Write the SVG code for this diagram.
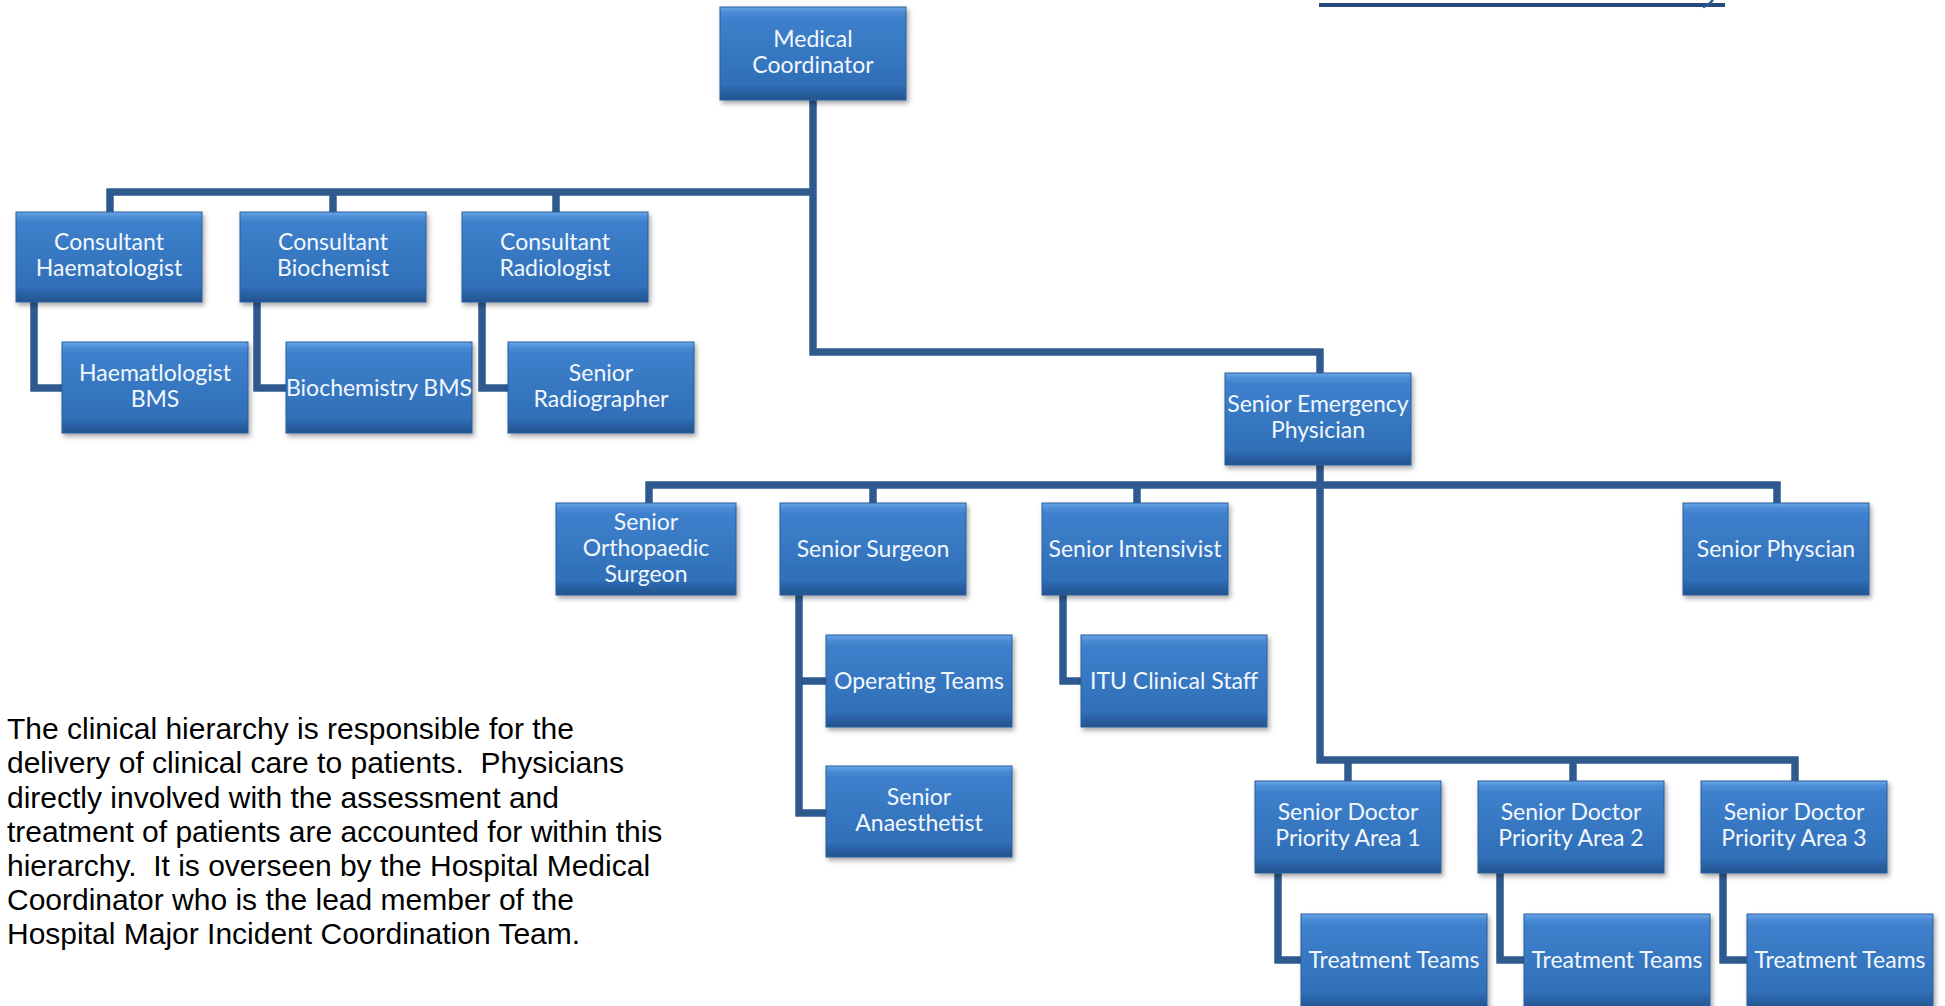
<svg xmlns="http://www.w3.org/2000/svg" width="1945" height="1006" viewBox="0 0 1945 1006">
<defs>
<linearGradient id="bg" x1="0" y1="0" x2="0" y2="1">
<stop offset="0" stop-color="#6aa6e6"/>
<stop offset="0.06" stop-color="#4c8cd6"/>
<stop offset="0.12" stop-color="#3e80cc"/>
<stop offset="0.84" stop-color="#306fb8"/>
<stop offset="0.9" stop-color="#2a62a6"/>
<stop offset="1" stop-color="#23558f"/>
</linearGradient>
<filter id="sh" x="-10%" y="-10%" width="125%" height="130%">
<feDropShadow dx="2" dy="3" stdDeviation="2.5" flood-color="#000" flood-opacity="0.35"/>
</filter>
</defs>
<style>
.box{fill:url(#bg);stroke:#2b5f9c;stroke-width:1;filter:url(#sh)}
.t{font-family:Lato,"Liberation Sans",sans-serif;font-size:23px;fill:#f2f7fd;text-anchor:middle}
.c1{fill:none;stroke:#2e5a8f;stroke-width:7;stroke-linejoin:miter}
.c2{fill:none;stroke:#4877b0;stroke-width:4;stroke-linejoin:miter}
.p{font-family:"Liberation Sans",Arial,sans-serif;font-size:30px;fill:#000;white-space:pre}
</style>
<rect width="1945" height="1006" fill="#fff"/>
<g id="topline">
<rect x="1319" y="3" width="406" height="4" fill="#234a7a"/>
<path d="M1703,7 Q1708,6 1713,0" fill="none" stroke="#2c5a92" stroke-width="2.5"/>
</g>
<g id="connectors">
<path id="cp" d="M813,100 V352 H1320 V373 M110,212 V192 H813 M333,192 V212 M556,192 V212 M34,302 V388 H62 M257,302 V388 H286 M482,302 V388 H508 M1320,465 V760 H1795 V781 M1348,760 V781 M1573,760 V781 M649,503 V485 H1777 V503 M873,485 V503 M1137,485 V503 M799,595 V813 H826 M799,681 H826 M1063,595 V681 H1082 M1278,873 V960 H1302 M1500,873 V960 H1525 M1723,873 V960 H1748" class="c1"/>
<use href="#cp" class="c2"/>
</g>
<g id="medical-coordinator"><rect class="box" x="720" y="7" width="186" height="93"/><text class="t" x="813" y="47">Medical</text><text class="t" x="813" y="73">Coordinator</text></g>
<g id="consultant-haematologist"><rect class="box" x="16" y="212" width="186" height="90"/><text class="t" x="109" y="250">Consultant</text><text class="t" x="109" y="276">Haematologist</text></g>
<g id="consultant-biochemist"><rect class="box" x="240" y="212" width="186" height="90"/><text class="t" x="333" y="250">Consultant</text><text class="t" x="333" y="276">Biochemist</text></g>
<g id="consultant-radiologist"><rect class="box" x="462" y="212" width="186" height="90"/><text class="t" x="555" y="250">Consultant</text><text class="t" x="555" y="276">Radiologist</text></g>
<g id="haematologist-bms"><rect class="box" x="62" y="342" width="186" height="91"/><text class="t" x="155" y="381">Haematlologist</text><text class="t" x="155" y="407">BMS</text></g>
<g id="biochemistry-bms"><rect class="box" x="286" y="342" width="186" height="91"/><text class="t" x="379" y="396">Biochemistry BMS</text></g>
<g id="senior-radiographer"><rect class="box" x="508" y="342" width="186" height="91"/><text class="t" x="601" y="381">Senior</text><text class="t" x="601" y="407">Radiographer</text></g>
<g id="senior-emergency-physician"><rect class="box" x="1225" y="373" width="186" height="92"/><text class="t" x="1318" y="412">Senior Emergency</text><text class="t" x="1318" y="438">Physician</text></g>
<g id="senior-orthopaedic-surgeon"><rect class="box" x="556" y="503" width="180" height="92"/><text class="t" x="646" y="530">Senior</text><text class="t" x="646" y="556">Orthopaedic</text><text class="t" x="646" y="582">Surgeon</text></g>
<g id="senior-surgeon"><rect class="box" x="780" y="503" width="186" height="92"/><text class="t" x="873" y="557">Senior Surgeon</text></g>
<g id="senior-intensivist"><rect class="box" x="1042" y="503" width="186" height="92"/><text class="t" x="1135" y="557">Senior Intensivist</text></g>
<g id="senior-physcian"><rect class="box" x="1683" y="503" width="186" height="92"/><text class="t" x="1776" y="557">Senior Physcian</text></g>
<g id="operating-teams"><rect class="box" x="826" y="635" width="186" height="92"/><text class="t" x="919" y="689">Operating Teams</text></g>
<g id="senior-anaesthetist"><rect class="box" x="826" y="766" width="186" height="91"/><text class="t" x="919" y="805">Senior</text><text class="t" x="919" y="831">Anaesthetist</text></g>
<g id="itu-clinical-staff"><rect class="box" x="1081" y="635" width="186" height="92"/><text class="t" x="1174" y="689">ITU Clinical Staff</text></g>
<g id="senior-doctor-pa1"><rect class="box" x="1255" y="781" width="186" height="92"/><text class="t" x="1348" y="820">Senior Doctor</text><text class="t" x="1348" y="846">Priority Area 1</text></g>
<g id="senior-doctor-pa2"><rect class="box" x="1478" y="781" width="186" height="92"/><text class="t" x="1571" y="820">Senior Doctor</text><text class="t" x="1571" y="846">Priority Area 2</text></g>
<g id="senior-doctor-pa3"><rect class="box" x="1701" y="781" width="186" height="92"/><text class="t" x="1794" y="820">Senior Doctor</text><text class="t" x="1794" y="846">Priority Area 3</text></g>
<g id="treatment-teams-1"><rect class="box" x="1301" y="914" width="186" height="94"/><text class="t" x="1394" y="968">Treatment Teams</text></g>
<g id="treatment-teams-2"><rect class="box" x="1524" y="914" width="186" height="94"/><text class="t" x="1617" y="968">Treatment Teams</text></g>
<g id="treatment-teams-3"><rect class="box" x="1747" y="914" width="186" height="94"/><text class="t" x="1840" y="968">Treatment Teams</text></g>
<g id="description">
<text class="p" x="7" y="739">The clinical hierarchy is responsible for the</text>
<text class="p" x="7" y="773">delivery of clinical care to patients.  Physicians</text>
<text class="p" x="7" y="808">directly involved with the assessment and</text>
<text class="p" x="7" y="842">treatment of patients are accounted for within this</text>
<text class="p" x="7" y="876">hierarchy.  It is overseen by the Hospital Medical</text>
<text class="p" x="7" y="910">Coordinator who is the lead member of the</text>
<text class="p" x="7" y="944">Hospital Major Incident Coordination Team.</text>
</g>
</svg>
